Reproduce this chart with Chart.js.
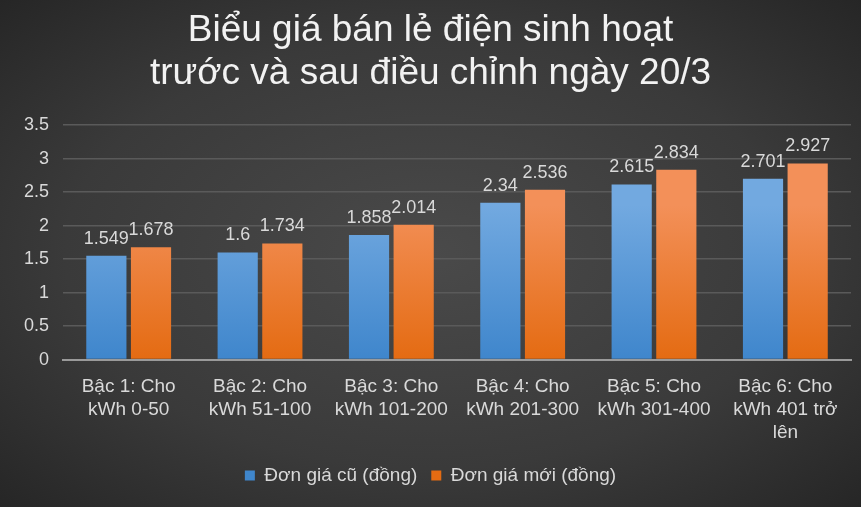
<!DOCTYPE html>
<html>
<head>
<meta charset="utf-8">
<script src="https://cdn.jsdelivr.net/npm/chart.js@4"></script>
<style>
html, body { margin: 0; padding: 0; }
body { width: 861px; height: 507px; background: radial-gradient(ellipse at center, #4a4a4a 0%, #3a3a3a 60%, #262626 100%); }
#wrap { width: 861px; height: 507px; }
</style>
</head>
<body>
<div id="wrap"><canvas id="grafico"></canvas></div>
<script>
// Dados do gráfico
var categorias = [
	["Bậc 1: Cho", "kWh 0-50"],
	["Bậc 2: Cho", "kWh 51-100"],
	["Bậc 3: Cho", "kWh 101-200"],
	["Bậc 4: Cho", "kWh 201-300"],
	["Bậc 5: Cho", "kWh 301-400"],
	["Bậc 6: Cho", "kWh 401 trở", "lên"],
];
var giaCu = [1.549, 1.6, 1.858, 2.34, 2.615, 2.701];
var giaMoi = [1.678, 1.734, 2.014, 2.536, 2.834, 2.927];
var nomeCu = "Đơn giá cũ (đồng)";
var nomeMoi = "Đơn giá mới (đồng)";
var titulo = ["Biểu giá bán lẻ điện sinh hoạt", "trước và sau điều chỉnh ngày 20/3"];

function gradiente(topo, base) {
	return function (ctx) {
		var area = ctx.chart.chartArea;
		if (!area) return base;
		var g = ctx.chart.ctx.createLinearGradient(0, area.top + 80, 0, area.bottom);
		g.addColorStop(0, topo);
		g.addColorStop(1, base);
		return g;
	};
}

// Rótulos de valor acima das barras
var rotulos = {
	id: "rotulos",
	afterDatasetsDraw: function (chart) {
		var c = chart.ctx;
		c.save();
		c.fillStyle = "#d9d9d9";
		c.font = "18px 'Liberation Sans', Arial, sans-serif";
		c.textAlign = "center";
		c.textBaseline = "bottom";
		chart.data.datasets.forEach(function (ds, i) {
			chart.getDatasetMeta(i).data.forEach(function (bar, j) {
				c.fillText(String(ds.data[j]), bar.x, bar.y - 8);
			});
		});
		c.restore();
	},
};

Chart.defaults.font.family = "'Liberation Sans', Arial, sans-serif";
Chart.defaults.color = "#d9d9d9";

new Chart(document.getElementById("grafico"), {
	type: "bar",
	data: {
		labels: categorias,
		datasets: [
			{ label: nomeCu, data: giaCu, backgroundColor: gradiente("#72a9e0", "#3f86cc") },
			{ label: nomeMoi, data: giaMoi, backgroundColor: gradiente("#f39059", "#e46b12") },
		],
	},
	options: {
		responsive: true,
		maintainAspectRatio: false,
		animation: false,
		datasets: { bar: { categoryPercentage: 0.68, barPercentage: 0.9 } },
		layout: { padding: { left: 10, right: 10, top: 6, bottom: 12 } },
		plugins: {
			title: {
				display: true,
				text: titulo,
				color: "#f2f2f2",
				font: { size: 37, weight: "normal", lineHeight: 1.15 },
				padding: { top: 4, bottom: 30 },
			},
			legend: {
				position: "bottom",
				labels: { boxWidth: 10, boxHeight: 10, font: { size: 19 }, color: "#d9d9d9", padding: 14 },
			},
			tooltip: { enabled: false },
		},
		scales: {
			x: {
				grid: { display: false },
				border: { color: "#9a9a9a", width: 2 },
				ticks: { font: { size: 19 }, maxRotation: 0, autoSkip: false, padding: 8 },
			},
			y: {
				min: 0,
				max: 3.5,
				ticks: {
					stepSize: 0.5,
					font: { size: 18 },
					padding: 14,
					callback: function (v) { return String(v); },
				},
				grid: { color: "#5a5a5a", lineWidth: 1.5, drawTicks: false },
				border: { display: false },
			},
		},
	},
	plugins: [rotulos],
});
</script>
</body>
</html>
